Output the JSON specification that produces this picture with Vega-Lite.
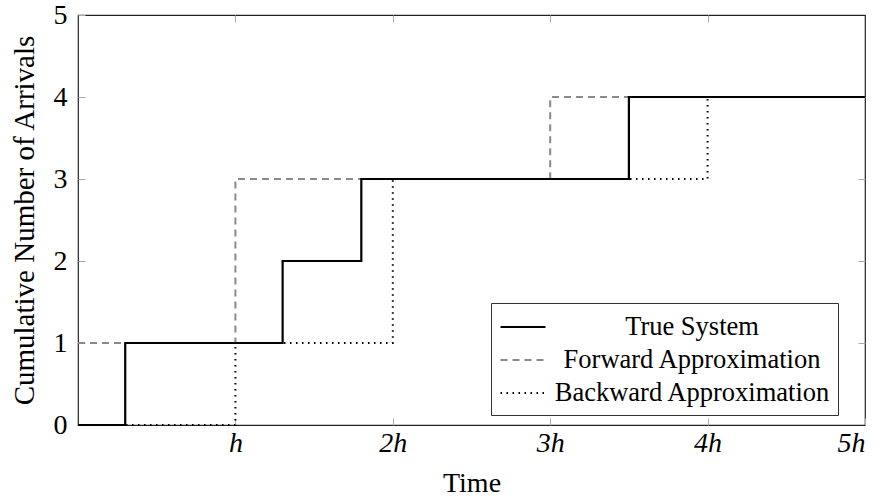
{
  "$schema": "https://vega.github.io/schema/vega-lite/v6.json",
  "width": 787,
  "height": 410,
  "autosize": "none",
  "padding": {"left": 78, "top": 15, "right": 18, "bottom": 74},
  "background": "white",
  "config": {
    "view": {"stroke": "#222", "strokeWidth": 1.2},
    "font": "Liberation Serif"
  },
  "data": {
    "values": [
      {"t": 0, "n": 1, "s": "Forward Approximation"},
      {"t": 1, "n": 3, "s": "Forward Approximation"},
      {"t": 3, "n": 4, "s": "Forward Approximation"},
      {"t": 5, "n": 4, "s": "Forward Approximation"},
      {"t": 0, "n": 0, "s": "Backward Approximation"},
      {"t": 1, "n": 1, "s": "Backward Approximation"},
      {"t": 2, "n": 3, "s": "Backward Approximation"},
      {"t": 4, "n": 4, "s": "Backward Approximation"},
      {"t": 5, "n": 4, "s": "Backward Approximation"},
      {"t": 0, "n": 0, "s": "True System"},
      {"t": 0.3, "n": 1, "s": "True System"},
      {"t": 1.3, "n": 2, "s": "True System"},
      {"t": 1.8, "n": 3, "s": "True System"},
      {"t": 3.5, "n": 4, "s": "True System"},
      {"t": 5, "n": 4, "s": "True System"}
    ]
  },
  "encoding": {
    "x": {"field": "t", "type": "quantitative", "scale": {"domain": [0, 5], "nice": false, "zero": false}},
    "y": {"field": "n", "type": "quantitative", "scale": {"domain": [0, 5], "nice": false}},
    "color": {
      "field": "s", "type": "nominal",
      "scale": {"domain": ["True System", "Forward Approximation", "Backward Approximation"], "range": ["#000000", "#8a8a8a", "#000000"]},
      "legend": {
        "title": null, "orient": "none", "legendX": 413, "legendY": 288,
        "symbolType": "M-1.5,0H1.5", "symbolSize": 900, "symbolStrokeWidth": 2, "symbolOffset": 8,
        "labelFont": "Liberation Serif", "labelFontSize": 26.5, "labelColor": "#000",
        "labelAlign": "center", "labelOffset": 153,
        "strokeColor": "#333", "fillColor": "white", "padding": 8,
        "rowPadding": 3, "labelLimit": 400
      }
    },
    "strokeDash": {
      "field": "s", "type": "nominal",
      "scale": {"domain": ["True System", "Forward Approximation", "Backward Approximation"], "range": [[1, 0], [7, 5], [1.5, 4.5]]},
      "legend": {
        "title": null, "orient": "none", "legendX": 413, "legendY": 288,
        "symbolType": "M-1.5,0H1.5", "symbolSize": 900, "symbolStrokeWidth": 2, "symbolOffset": 8,
        "labelFont": "Liberation Serif", "labelFontSize": 26.5, "labelColor": "#000",
        "labelAlign": "center", "labelOffset": 153,
        "strokeColor": "#333", "fillColor": "white", "padding": 8,
        "rowPadding": 3, "labelLimit": 400
      }
    }
  },
  "layer": [
    {
      "transform": [{"filter": "datum.s == 'Forward Approximation'"}],
      "mark": {"type": "line", "interpolate": "step-after", "strokeWidth": 2},
      "encoding": {
        "x": {"field": "t", "type": "quantitative",
          "axis": {"orient": "bottom", "values": [1, 2, 3, 4, 5], "labelExpr": "datum.value == 1 ? 'h' : datum.value + 'h'",
            "labelFont": "Liberation Serif", "labelFontStyle": "italic", "labelFontSize": 28, "labelColor": "#000",
            "tickSize": -7, "tickColor": "#aaa", "labelPadding": 11, "labelBaseline": "top",
            "domain": false, "grid": false,
            "title": "Time", "titleFont": "Liberation Serif", "titleFontSize": 28, "titleFontWeight": "normal", "titleColor": "#000",
            "titleY": 66, "titleBaseline": "alphabetic"}},
        "y": {"field": "n", "type": "quantitative",
          "axis": {"orient": "left", "values": [0, 1, 2, 3, 4, 5],
            "labelFont": "Liberation Serif", "labelFontSize": 28, "labelColor": "#000",
            "tickSize": -7, "tickColor": "#aaa", "labelPadding": 18,
            "domain": false, "grid": false,
            "title": "Cumulative Number of Arrivals", "titleFont": "Liberation Serif", "titleFontSize": 29, "titleFontWeight": "normal", "titleColor": "#000",
            "titleX": -45, "titleY": 205, "titleAngle": -90, "titleAlign": "center", "titleBaseline": "alphabetic"}}
      }
    },
    {
      "transform": [{"filter": "datum.s == 'Backward Approximation'"}],
      "mark": {"type": "line", "interpolate": "step-after", "strokeWidth": 2},
      "encoding": {
        "x": {"field": "t", "type": "quantitative",
          "axis": {"orient": "top", "values": [1, 2, 3, 4], "labels": false, "tickSize": -7, "tickColor": "#aaa", "domain": false, "grid": false, "title": null}},
        "y": {"field": "n", "type": "quantitative",
          "axis": {"orient": "right", "values": [1, 2, 3, 4], "labels": false, "tickSize": -7, "tickColor": "#aaa", "domain": false, "grid": false, "title": null}}
      }
    },
    {
      "transform": [{"filter": "datum.s == 'True System'"}],
      "mark": {"type": "line", "interpolate": "step-after", "strokeWidth": 2.2},
      "encoding": {
        "x": {"field": "t", "type": "quantitative", "axis": null},
        "y": {"field": "n", "type": "quantitative", "axis": null}
      }
    }
  ],
  "resolve": {"axis": {"x": "independent", "y": "independent"}}
}
